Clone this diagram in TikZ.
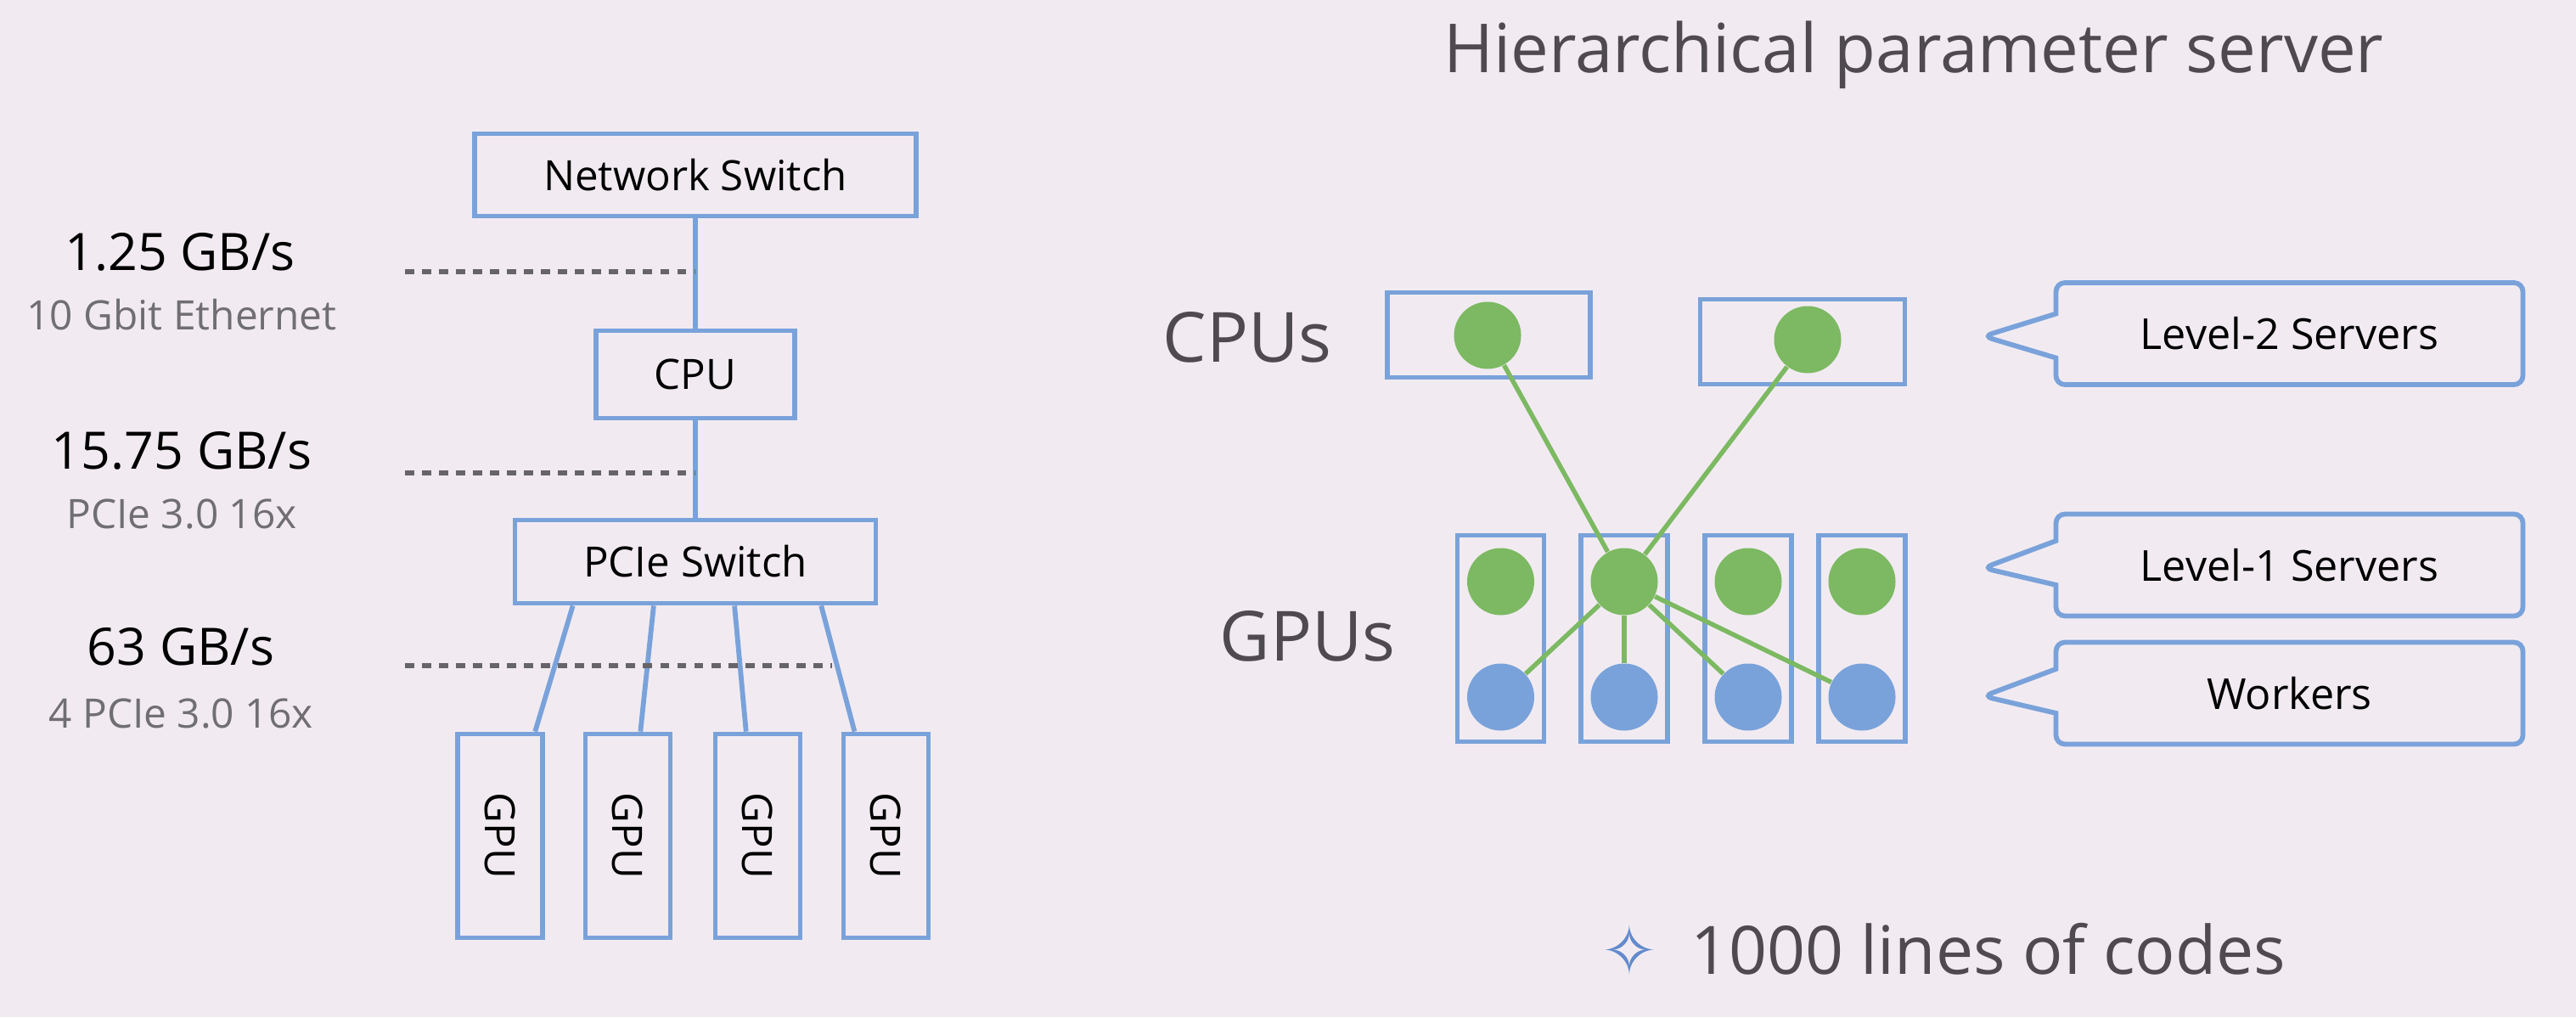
\documentclass[tikz,border=0pt]{standalone}
\usepackage{graphicx}
\usepackage{fontspec}
\setmainfont{Open Sans}
\newfontfamily\symfont{DejaVu Sans}
\usetikzlibrary{calc,shapes.callouts}
\definecolor{slidebg}{RGB}{241,235,241}
\definecolor{boxblue}{RGB}{122,162,218}
\definecolor{dotgreen}{RGB}{124,185,98}
\definecolor{dotblue}{RGB}{122,162,218}
\definecolor{headgray}{RGB}{78,74,80}
\definecolor{subgray}{RGB}{112,110,114}
\definecolor{dashgray}{RGB}{102,100,104}
\definecolor{starblue}{RGB}{98,138,204}
\newcommand{\boxLine}[0]{1.65pt}

\begin{document}
\begin{tikzpicture}
  \tikzset{
    hwbox/.style={draw=boxblue, line width=\boxLine, inner sep=0pt, text=black,
      font=\fontsize{14}{16}\selectfont},
    gpubox/.style={hwbox, minimum width=1cm, minimum height=2.4cm},
    bus/.style={boxblue, line width=\boxLine},
    rate/.style={anchor=base, text=black, font=\fontsize{17.3}{20}\selectfont},
    ratesub/.style={anchor=base, text=subgray, font=\fontsize{13.6}{16}\selectfont},
    level/.style={dashgray, line width=1.5pt, dash pattern=on 3.1pt off 2.6pt},
    srv/.style={circle, inner sep=0pt, minimum size=0.79cm, fill=#1},
    link/.style={dotgreen, line width=1.55pt},
    head/.style={anchor=base, text=headgray, font=\fontsize{22.7}{26}\selectfont},
    tag/.style={rectangle callout, draw=boxblue, line width=\boxLine, rounded corners=3pt,
      minimum width=5.5cm, minimum height=1.2cm, callout pointer width=0.52cm,
      text=black, font=\fontsize{14.3}{16}\selectfont}
  }
  \fill[slidebg] (0,0) rectangle (30.34,-11.98);
  \useasboundingbox (0,0) rectangle (30.34,-11.98);

  % single machine
  \node[hwbox, minimum width=5.2cm, minimum height=0.97cm] (ns) at (8.19,-2.06) {Network Switch};
  \node[hwbox, minimum width=2.34cm, minimum height=1.03cm] (cpu) at (8.19,-4.41) {CPU};
  \node[hwbox, minimum width=4.25cm, minimum height=0.98cm] (pcie) at (8.19,-6.615) {PCIe Switch};
  \node[gpubox] (gpu1) at (5.89,-9.845) {\rotatebox{-90}{GPU}};
  \node[gpubox] (gpu2) at (7.395,-9.845) {\rotatebox{-90}{GPU}};
  \node[gpubox] (gpu3) at (8.925,-9.845) {\rotatebox{-90}{GPU}};
  \node[gpubox] (gpu4) at (10.435,-9.845) {\rotatebox{-90}{GPU}};
  \draw[bus] (ns.south) -- (cpu.north);
  \draw[bus] (cpu.south) -- (pcie.north);
  \draw[bus] ($(pcie.south west)!0.165!(pcie.south east)$) -- ($(gpu1.north west)!0.89!(gpu1.north east)$);
  \draw[bus] ($(pcie.south west)!0.386!(pcie.south east)$) -- ($(gpu2.north west)!0.64!(gpu2.north east)$);
  \draw[bus] ($(pcie.south west)!0.607!(pcie.south east)$) -- ($(gpu3.north west)!0.37!(gpu3.north east)$);
  \draw[bus] ($(pcie.south west)!0.844!(pcie.south east)$) -- ($(gpu4.north west)!0.15!(gpu4.north east)$);

  % bandwidth levels
  \coordinate (lv1) at (4.77,-3.20);
  \coordinate (lv2) at (4.77,-5.57);
  \coordinate (lv3) at (4.77,-7.84);
  \coordinate (lv3e) at (9.80,-7.84);
  \draw[level] (lv1) -- (lv1 -| ns.south);
  \draw[level] (lv2) -- (lv2 -| cpu.south);
  \draw[level] (lv3) -- (lv3e);
  \node[rate] (bw1) at (2.12,-3.18) {1.25 GB/s};
  \node[ratesub] (bw1s) at (2.14,-3.88) {10 Gbit Ethernet};
  \node[rate] (bw2) at (2.14,-5.52) {15.75 GB/s};
  \node[ratesub] (bw2s) at (2.14,-6.22) {PCIe 3.0 16x};
  \node[rate] (bw3) at (2.13,-7.83) {63 GB/s};
  \node[ratesub] (bw3s) at (2.13,-8.57) {4 PCIe 3.0 16x};

  % hierarchical parameter server
  \node[head] (title) at (22.54,-0.85) {Hierarchical parameter server};
  \node[head, font=\fontsize{23.2}{26}\selectfont] (cpus) at (14.69,-4.26) {CPUs};
  \node[head, font=\fontsize{23.2}{26}\selectfont] (gpus) at (15.40,-7.78) {GPUs};
  \node[hwbox, minimum width=2.39cm, minimum height=1cm] (cbox1) at (17.535,-3.945) {};
  \node[hwbox, minimum width=2.41cm, minimum height=1cm] (cbox2) at (21.23,-4.025) {};
  \node[hwbox, minimum width=1.02cm, minimum height=2.43cm] (gbox1) at (17.675,-7.52) {};
  \node[hwbox, minimum width=1.02cm, minimum height=2.43cm] (gbox2) at (19.13,-7.52) {};
  \node[hwbox, minimum width=1.02cm, minimum height=2.43cm] (gbox3) at (20.59,-7.52) {};
  \node[hwbox, minimum width=1.02cm, minimum height=2.43cm] (gbox4) at (21.93,-7.52) {};
  \node[srv=dotgreen] (c1) at (17.52,-3.95) {};
  \node[srv=dotgreen] (c2) at (21.29,-4.00) {};
  \node[srv=dotgreen] (g1) at (17.675,-6.85) {};
  \node[srv=dotgreen] (g2) at (19.13,-6.85) {};
  \node[srv=dotgreen] (g3) at (20.59,-6.85) {};
  \node[srv=dotgreen] (g4) at (21.93,-6.85) {};
  \node[srv=dotblue] (b1) at (17.675,-8.21) {};
  \node[srv=dotblue] (b2) at (19.13,-8.21) {};
  \node[srv=dotblue] (b3) at (20.59,-8.21) {};
  \node[srv=dotblue] (b4) at (21.93,-8.21) {};
  \draw[link] (c1) -- (g2);
  \draw[link] (c2) -- (g2);
  \draw[link] (g2) -- (b1);
  \draw[link] (g2) -- (b2);
  \draw[link] (g2) -- (b3);
  \draw[link] (g2) -- (b4);

  % roles
  \node[tag, callout absolute pointer={(23.36,-3.96)}] (lvl2) at (26.965,-3.93) {Level-2 Servers};
  \node[tag, callout absolute pointer={(23.36,-6.69)}] (lvl1) at (26.965,-6.655) {Level-1 Servers};
  \node[tag, callout absolute pointer={(23.36,-8.20)}] (wrk) at (26.965,-8.165) {Workers};

  \node[text=starblue, font=\symfont\fontsize{23}{27}\selectfont] (star) at (19.19,-11.19) {✧};
  \node[anchor=base west, text=headgray, font=\fontsize{22.4}{26}\selectfont] (loc) at (19.79,-11.47) {1000 lines of codes};
\end{tikzpicture}
\end{document}
